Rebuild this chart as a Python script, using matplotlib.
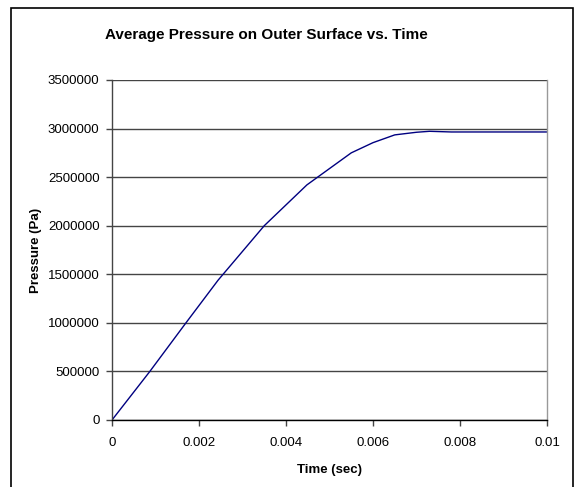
import matplotlib.pyplot as plt
from matplotlib.patches import Rectangle

plt.rcParams["font.family"] = ["Liberation Sans", "DejaVu Sans"]

# data
time_sec = [0, 0.00087, 0.0017, 0.00244, 0.0035, 0.00448, 0.0055, 0.0060,
            0.0065, 0.0070, 0.0073, 0.0078, 0.0085, 0.0100]
pressure_pa = [0, 500000, 1000000, 1440000, 2000000, 2420000, 2750000, 2855000,
               2935000, 2962000, 2972000, 2965000, 2965000, 2965000]

x_ticks = [0, 0.002, 0.004, 0.006, 0.008, 0.01]
x_tick_labels = ["0", "0.002", "0.004", "0.006", "0.008", "0.01"]
y_ticks = [0, 500000, 1000000, 1500000, 2000000, 2500000, 3000000, 3500000]

W, H = 576, 487
fig = plt.figure(figsize=(W / 100, H / 100), dpi=100)
ax = fig.add_axes([112 / W, (H - 420) / H, 435 / W, 340 / H])

# outer chart border (bottom edge runs off the image)
fig.patches.append(Rectangle((11 / W, -3 / H), 562 / W, 482 / H, transform=fig.transFigure,
                             fill=False, edgecolor="black", linewidth=1.2))

ax.plot(time_sec, pressure_pa, color="#000080", linewidth=1)

ax.set_xlim(0, 0.01)
ax.set_ylim(0, 3500000)
ax.set_xticks(x_ticks)
ax.set_xticklabels(x_tick_labels)
ax.set_yticks(y_ticks)
ax.set_yticklabels([str(v) for v in y_ticks])
ax.tick_params(labelsize=9.5, length=4, width=1, color="#444444")
ax.tick_params(axis="x", pad=8)
ax.tick_params(axis="y", pad=5)

ax.yaxis.grid(True, color="#444444", linewidth=1)
ax.set_axisbelow(True)
ax.spines["top"].set_visible(False)
ax.spines["right"].set_color("#999999")
ax.spines["left"].set_color("#444444")
ax.spines["bottom"].set_color("black")
for s in ax.spines.values():
    s.set_linewidth(1)

fig.text(266 / W, 1 - 35 / H, "Average Pressure on Outer Surface vs. Time",
         ha="center", va="center", fontsize=11, fontweight="bold")
ax.set_xlabel("Time (sec)", fontsize=9.5, fontweight="bold", labelpad=11)
ax.set_ylabel("Pressure (Pa)", fontsize=9.5, fontweight="bold", labelpad=4)

fig.savefig("out.png", dpi=100)
